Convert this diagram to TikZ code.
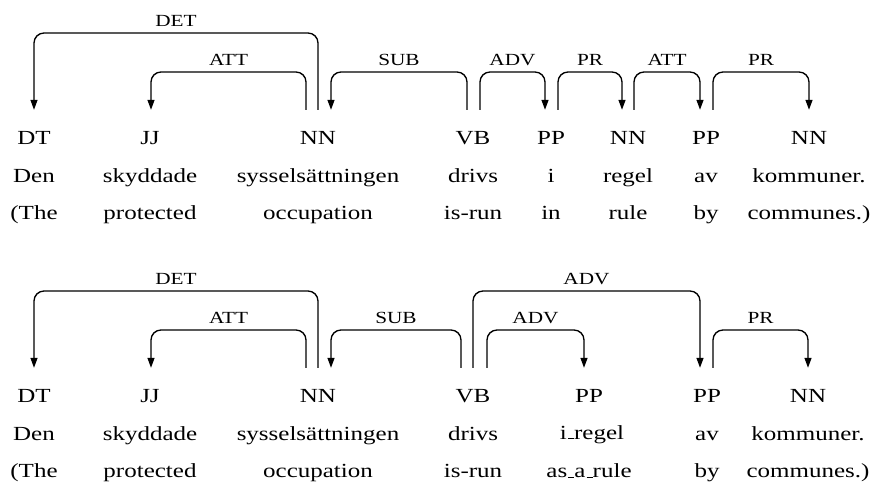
\documentclass[tikz,border=0pt]{standalone}
\usepackage{fontspec}
\setmainfont{Liberation Serif}[FakeStretch=1.25]
\usetikzlibrary{arrows.meta}

% underscore joining multi-word units
\newcommand\usc{\leavevmode\kern.06em\vbox{\hrule height 1.1pt width .3em}}

% dependency arc: #1 direction, #2 left node, #3 left x offset, #4 right node,
% #5 right x offset, #6 height of the bar, #7 relation label
\newcommand\deparc[7]{%
  \draw[arcline,#1] ([xshift=#3pt,yshift=21pt]#2.north)
    -- ([xshift=#3pt]#2.north |- 0,#6)
    -- node[deplabel]{#7} ([xshift=#5pt]#4.north |- 0,#6)
    -- ([xshift=#5pt,yshift=21pt]#4.north);}

\tikzset{
  tag/.style={anchor=base, inner sep=0pt, text height=14pt, text depth=0pt,
    font=\fontsize{20}{24}\selectfont},
  word/.style={anchor=base, inner sep=0pt, font=\fontsize{20}{24}\selectfont},
  deplabel/.style={midway, anchor=base, inner sep=0pt, yshift=6pt,
    font=\fontsize{17}{20}\selectfont},
  arcline/.style={line width=1.35pt, rounded corners=10pt},
}

\begin{document}
\begin{tikzpicture}[x=1pt, y=-1pt, >={Triangle[length=10pt,width=7pt]}]
\useasboundingbox (0,0) rectangle (879,486);

% ---- first analysis ----
\node[tag] (dtA) at (34,145) {DT};
\node[tag] (jjA) at (150,145) {JJ};
\node[tag] (nnA) at (318,145) {NN};
\node[tag] (vbA) at (473,145) {VB};
\node[tag] (ppA) at (551,145) {PP};
\node[tag] (nnB) at (628,145) {NN};
\node[tag] (ppB) at (706,145) {PP};
\node[tag] (nnC) at (809,145) {NN};

\node[word] (w1) at (34,183) {Den};
\node[word] (w2) at (150,183) {skyddade};
\node[word] (w3) at (318,183) {sysselsättningen};
\node[word] (w4) at (473,183) {drivs};
\node[word] (w5) at (551,183) {i};
\node[word] (w6) at (628,183) {regel};
\node[word] (w7) at (706,183) {av};
\node[word] (w8) at (809,183) {kommuner.};

\node[word] (g1) at (34,220) {(The};
\node[word] (g2) at (150,220) {protected};
\node[word] (g3) at (318,220) {occupation};
\node[word] (g4) at (473,220) {is-run};
\node[word] (g5) at (551,220) {in};
\node[word] (g6) at (628,220) {rule};
\node[word] (g7) at (706,220) {by};
\node[word] (g8) at (809,220) {communes.)};

\deparc{<-}{dtA}{0}{nnA}{0}{33}{DET}
\deparc{<-}{jjA}{1}{nnA}{-12}{72}{ATT}
\deparc{<-}{nnA}{13}{vbA}{-6}{72}{SUB}
\deparc{->}{vbA}{7}{ppA}{-6}{72}{ADV}
\deparc{->}{ppA}{7}{nnB}{-6}{72}{PR}
\deparc{->}{nnB}{6}{ppB}{-6}{72}{ATT}
\deparc{->}{ppB}{7}{nnC}{0}{72}{PR}

% ---- second analysis ----
\node[tag] (dtD) at (34,403) {DT};
\node[tag] (jjD) at (150,403) {JJ};
\node[tag] (nnD) at (318,403) {NN};
\node[tag] (vbD) at (473,403) {VB};
\node[tag] (ppD) at (589,403) {PP};
\node[tag] (ppE) at (707,403) {PP};
\node[tag] (nnE) at (808,403) {NN};

\node[word] (v1) at (34,441) {Den};
\node[word] (v2) at (150,441) {skyddade};
\node[word] (v3) at (318,441) {sysselsättningen};
\node[word] (v4) at (473,441) {drivs};
\node[word] (v5) at (592,439) {i\usc regel};
\node[word] (v6) at (707,441) {av};
\node[word] (v7) at (808,441) {kommuner.};

\node[word] (h1) at (34,478) {(The};
\node[word] (h2) at (150,478) {protected};
\node[word] (h3) at (318,478) {occupation};
\node[word] (h4) at (473,478) {is-run};
\node[word] (h5) at (589,478) {as\usc a\usc rule};
\node[word] (h6) at (707,478) {by};
\node[word] (h7) at (808,478) {communes.)};

\deparc{<-}{dtD}{0}{nnD}{0}{291}{DET}
\deparc{<-}{jjD}{1}{nnD}{-12}{330}{ATT}
\deparc{<-}{nnD}{13}{vbD}{-12}{330}{SUB}
\deparc{->}{vbD}{0}{ppE}{-7}{291}{ADV}
\deparc{->}{vbD}{14}{ppD}{-5}{330}{ADV}
\deparc{->}{ppE}{6}{nnE}{0}{330}{PR}
\end{tikzpicture}
\end{document}
